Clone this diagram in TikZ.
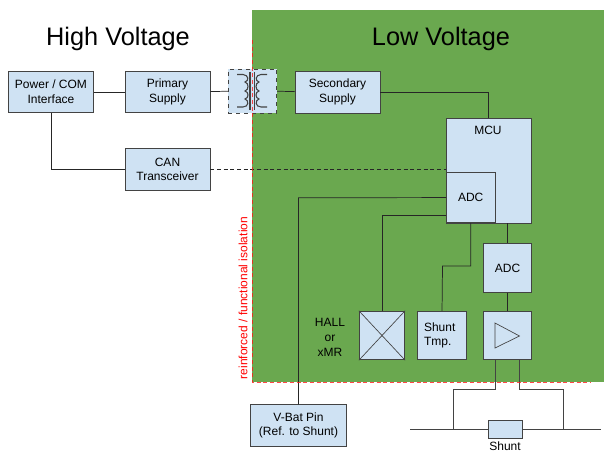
\documentclass[tikz,border=0pt]{standalone}
\usepackage{fontspec}
\setmainfont{Liberation Sans}
\usetikzlibrary{calc,positioning}
\definecolor{boxfill}{HTML}{CFE2F3}
\definecolor{boxline}{HTML}{434343}
\definecolor{lowgreen}{HTML}{6AA84F}

\begin{document}
\begin{tikzpicture}[
    x=0.75pt, y=-0.75pt,
    box/.style={draw=boxline, fill=boxfill, line width=0.6pt, inner sep=0pt, align=center, font=\fontsize{9}{11}\selectfont},
    wide/.style={box, minimum width=63.75pt, minimum height=31pt},
    square/.style={box, minimum width=36.5pt, minimum height=36.5pt},
    wire/.style={draw=black!85, line width=0.55pt},
    thinline/.style={draw=boxline, line width=0.6pt},
    coil/.style={draw=boxline, line width=0.8pt},
    title/.style={font=\fontsize{19}{22}\selectfont, text=black}
]
\useasboundingbox (0,0) rectangle (604,453);

% Low voltage area and isolation barrier
\fill[lowgreen] (252,10) rectangle (604,382);
\coordinate (isotop) at (252,40);
\coordinate (isocorner) at (252,382);
\coordinate (isoend) at (591,382);

% Titles
\node[title] (hvtitle) at (118,39) {High Voltage};
\node[title] (lvtitle) at (441,39) {Low Voltage};

% High voltage boxes
\node[wide] (power) at (51,92) {Power / COM\\Interface};
\node[wide, right=23pt of power] (primary) {Primary\\Supply};
\node[wide] (can) at (167.5,169.5) {CAN\\Transceiver};

% Transformer
\node[box, dashed, minimum width=36.5pt, minimum height=33pt] (trafo) at (252.5,91) {};
\node[wide, minimum height=31.5pt] (secondary) at (337.5,92) {Secondary\\Supply};

% MCU with its ADC
\node[box, minimum width=63.75pt, minimum height=78.75pt, anchor=north west] (mcu) at (446,118) {};
\node[font=\fontsize{9}{11}\selectfont] (mcutext) at (488,130) {MCU};
\node[square, anchor=south west, minimum width=36.5pt, minimum height=37.5pt] (adcint) at (446,223) {ADC};

% Sensor chain
\node[square] (adcext) at (507.5,268) {ADC};
\node[square] (amp) at (507.5,335.5) {};
\node[square, left=12pt of amp, text width=27pt, align=left] (shunttmp) {Shunt\\Tmp.};
\node[square, minimum width=34pt] (hall) at (382,335.5) {};
\node[align=center, font=\fontsize{9}{11}\selectfont] (halltext) at (330,337.5) {HALL\\or\\xMR};
\draw[thinline, line width=0.5pt] (hall.north west) -- (hall.south east) (hall.north east) -- (hall.south west);
\draw[thinline, line width=0.5pt] (495,323) -- (519.5,336) -- (495,348) -- cycle;

% Outside the green area
\node[box, minimum width=72pt, minimum height=31pt] (vbat) at (298.5,425.5) {V-Bat Pin\\(Ref. to Shunt)};
\node[box, minimum width=25.5pt, minimum height=13.5pt] (shunt) at (505,429.5) {};
\node[anchor=north, inner sep=0pt, font=\fontsize{9}{11}\selectfont] (shunttext) at (505,441.5) {Shunt};
\coordinate (busleft) at (410,429.5);
\coordinate (busright) at (601,429.5);
\coordinate (tapleft) at (453,429.5);
\coordinate (tapright) at (563,429.5);

% Connections
\draw[wire] (power) -- (primary);
\draw[wire] (primary) -- (trafo);
\draw[wire] (trafo) -- (secondary);
\draw[wire] (secondary.east) -| (488.5,118);
\draw[wire] (power.south) |- (can.west);
\draw[wire, densely dashed] (can.east) -- (can.east -| mcu.west);
\draw[wire] (adcint.west) -- (298.5,197.7) -- (vbat.north);
\draw[wire] (446,215) -| (hall.north);
\draw[wire] (adcint.south) |- (442.5,266) -- (shunttmp.north);
\draw[wire] (507.5,223) -- (adcext.north);
\draw[wire] (adcext) -- (amp);
\draw[thinline] (busleft) -- (shunt) -- (busright);
\draw[thinline] (tapleft) |- (495.5,389) -- (495.5,360);
\draw[thinline] (tapright) |- (519.5,389) -- (519.5,360);

% Transformer windings
\draw[coil] (250,72) -- (250,110) (254.5,72) -- (254.5,110);
\draw[coil] (237,74.5) -- (243,74.5) .. controls (249,75) and (249,81) .. (245,82)
    .. controls (249,83) and (249,90) .. (245,91) .. controls (249,92) and (249,98) .. (245,99)
    .. controls (249,100) and (249,107) .. (243,107) -- (237,107);
\draw[coil] (267,74.5) -- (261,74.5) .. controls (255,75) and (255,81) .. (259,82)
    .. controls (255,83) and (255,90) .. (259,91) .. controls (255,92) and (255,98) .. (259,99)
    .. controls (255,100) and (255,107) .. (261,107) -- (267,107);

% Barrier on top
\draw[red!90!white, densely dashed, line width=0.6pt, opacity=0.8] (isotop) -- (isocorner) -- (isoend);
\node[rotate=90, text=red, font=\fontsize{9}{11}\selectfont] (isotext) at (243,298) {reinforced / functional isolation};

\end{tikzpicture}
\end{document}
